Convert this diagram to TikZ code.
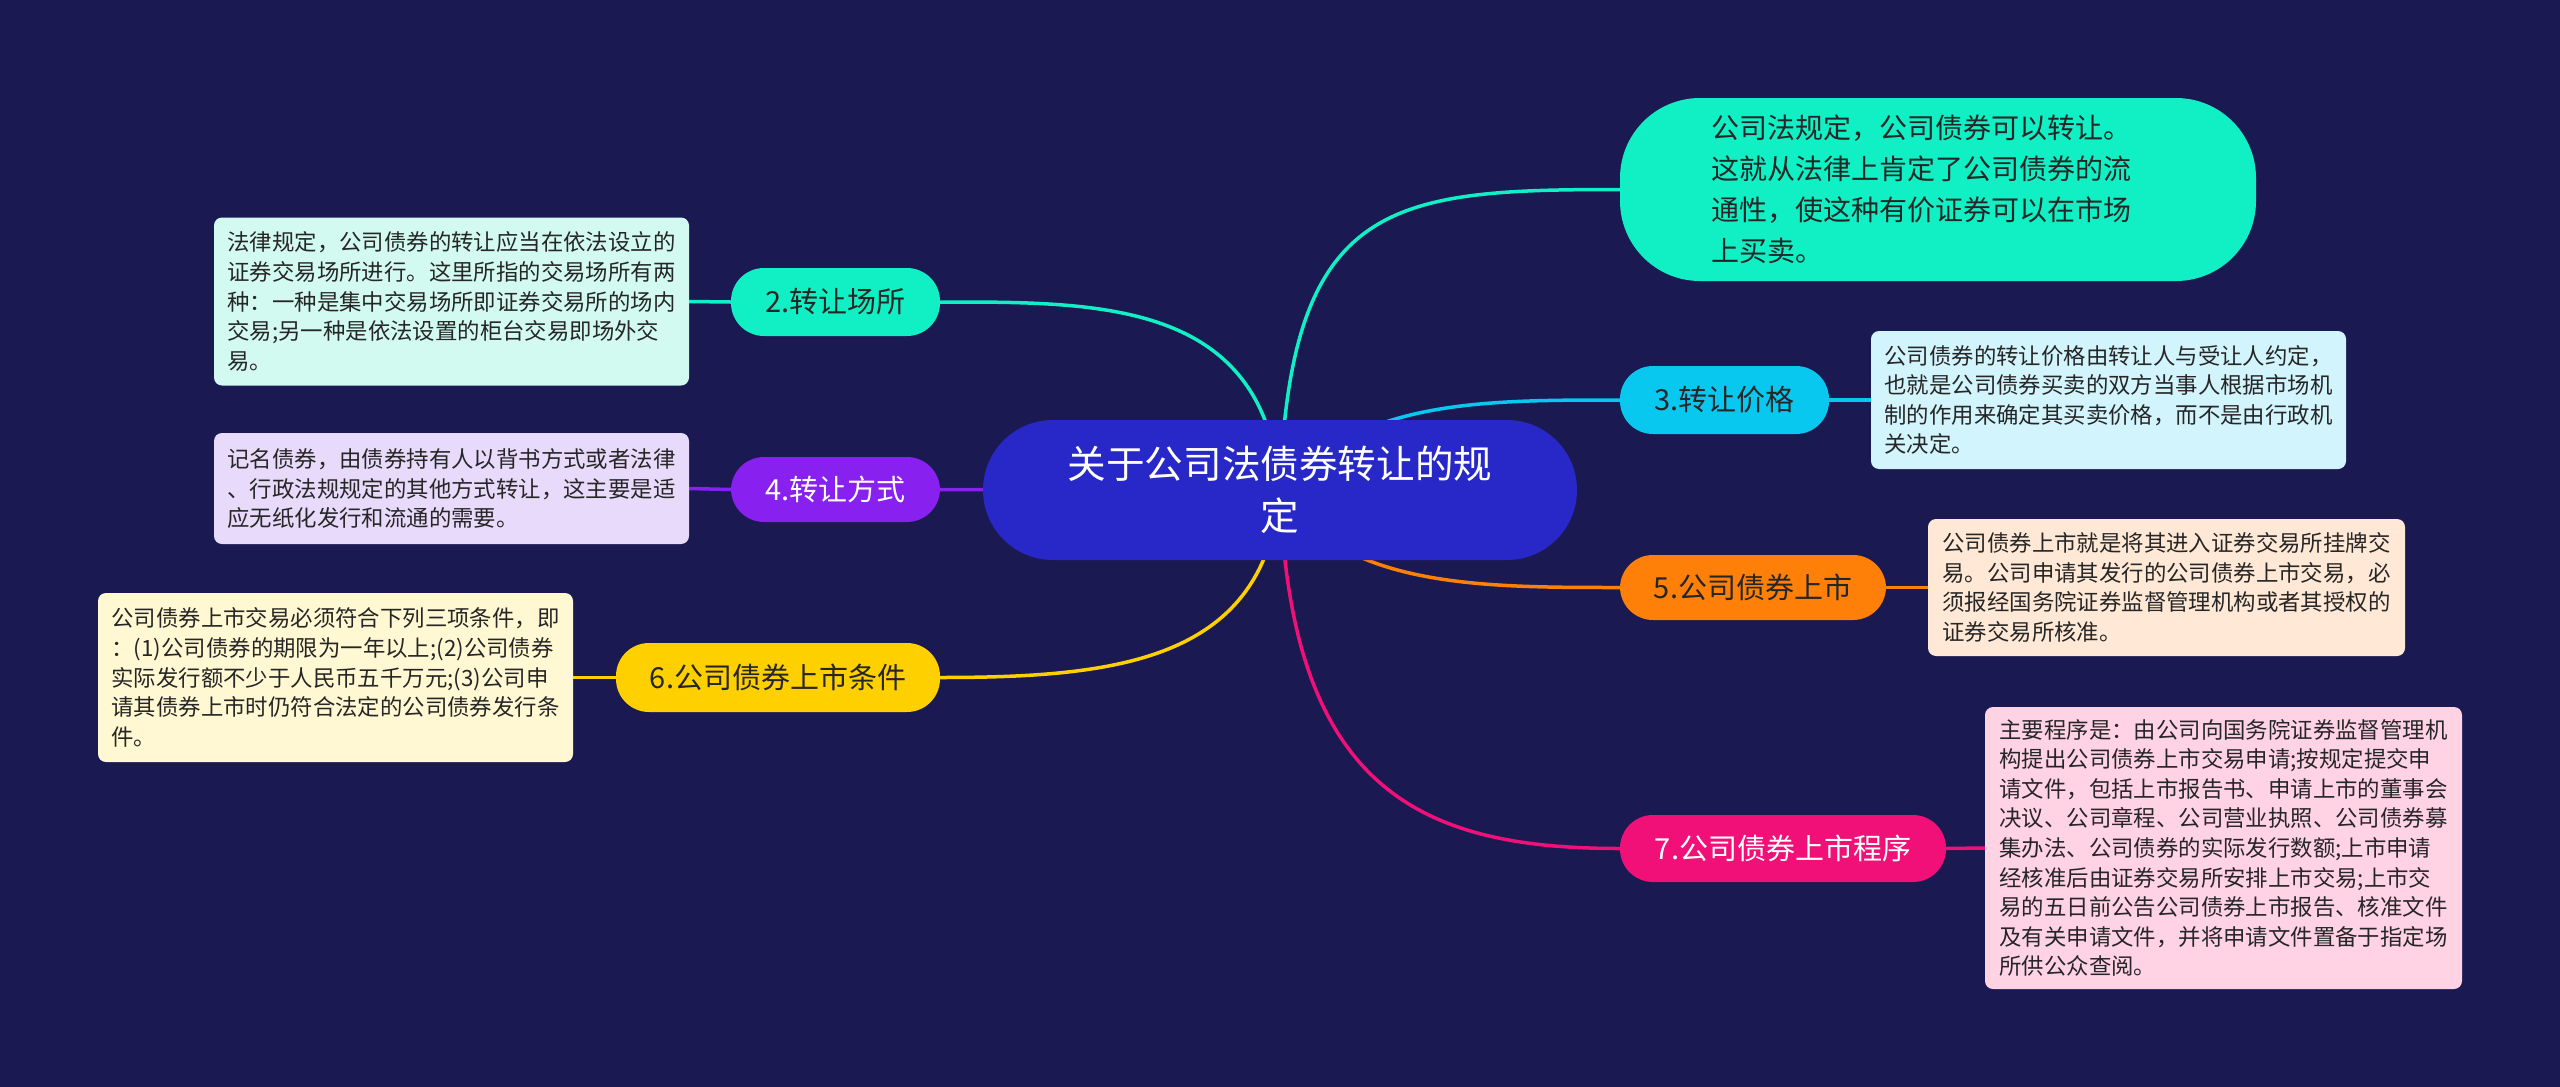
\documentclass[tikz,border=0pt]{standalone}
\usepackage{fontspec}
\setmainfont{Noto Sans CJK SC}
\pgfdeclarelayer{bglayer}
\pgfdeclarelayer{edgelayer}
\pgfsetlayers{bglayer,edgelayer,main}
\definecolor{bgc}{RGB}{27,25,82}
\definecolor{rootc}{RGB}{40,40,200}
\definecolor{mintc}{RGB}{16,240,196}
\definecolor{skyc}{RGB}{8,200,240}
\definecolor{orangec}{RGB}{255,128,8}
\definecolor{pinkc}{RGB}{240,16,120}
\definecolor{purplec}{RGB}{136,32,240}
\definecolor{yellowc}{RGB}{255,208,0}
\definecolor{mintl}{RGB}{210,250,240}
\definecolor{skyl}{RGB}{210,244,252}
\definecolor{orangel}{RGB}{255,233,214}
\definecolor{pinkl}{RGB}{255,210,228}
\definecolor{purplel}{RGB}{232,218,250}
\definecolor{yellowl}{RGB}{255,248,210}
\definecolor{darktext}{RGB}{38,38,38}
\tikzset{
  pill/.style={rectangle, rounded corners=33pt, inner sep=0pt, minimum height=67pt,
    font=\fontsize{29}{34}\selectfont, text=darktext},
  detail/.style={rectangle, rounded corners=8pt, inner sep=0pt, align=left,
    minimum width=475pt, font=\fontsize{22.4}{29.6}\selectfont, text=darktext},
  conn/.style={line width=3.5pt},
}
\begin{document}
\begin{tikzpicture}[x=1pt,y=-1pt]
\begin{pgfonlayer}{bglayer}
\fill[bgc] (0,0) rectangle (2560,1087);
\end{pgfonlayer}
\useasboundingbox (0,0) rectangle (2560,1087);

% root
\node[rectangle, rounded corners=70pt, fill=rootc, minimum width=594pt, minimum height=140pt,
  inner sep=0pt, align=center, text=white, font=\fontsize{38.6}{52}\selectfont]
  (c) at (1280,490) {关于公司法债券转让的规\\定};

% right side
\node[rectangle, rounded corners=80pt, fill=mintc, minimum width=636pt, minimum height=183pt,
  inner sep=0pt, text width=454pt, align=left, text=darktext, font=\fontsize{28}{41}\selectfont]
  (n1) at (1938,189.5) {公司法规定，公司债券可以转让。\\这就从法律上肯定了公司债券的流\\通性，使这种有价证券可以在市场\\上买卖。};

\node[pill, fill=skyc, minimum width=209pt, minimum height=68pt] (n3) at (1724.5,400) {3.转让价格};
\node[detail, fill=skyl, minimum height=138pt] (d3) at (2108.5,400)
  {公司债券的转让价格由转让人与受让人约定，\\也就是公司债券买卖的双方当事人根据市场机\\制的作用来确定其买卖价格，而不是由行政机\\关决定。};

\node[pill, fill=orangec, minimum width=266pt, minimum height=65pt] (n5) at (1753,587.5) {5.公司债券上市};
\node[detail, fill=orangel, minimum width=477pt, minimum height=137pt] (d5) at (2166.5,587.5)
  {公司债券上市就是将其进入证券交易所挂牌交\\易。公司申请其发行的公司债券上市交易，必\\须报经国务院证券监督管理机构或者其授权的\\证券交易所核准。};

\node[pill, fill=pinkc, text=white, minimum width=326pt, minimum height=67pt] (n7) at (1783,848.5) {7.公司债券上市程序};
\node[detail, fill=pinkl, minimum width=477pt, minimum height=282pt] (d7) at (2223.5,848)
  {主要程序是：由公司向国务院证券监督管理机\\构提出公司债券上市交易申请;按规定提交申\\请文件，包括上市报告书、申请上市的董事会\\决议、公司章程、公司营业执照、公司债券募\\集办法、公司债券的实际发行数额;上市申请\\经核准后由证券交易所安排上市交易;上市交\\易的五日前公告公司债券上市报告、核准文件\\及有关申请文件，并将申请文件置备于指定场\\所供公众查阅。};

% left side
\node[pill, fill=mintc, minimum width=209pt, minimum height=68pt] (n2) at (835.5,302) {2.转让场所};
\node[detail, fill=mintl, minimum height=168pt] (d2) at (451.5,301.5)
  {法律规定，公司债券的转让应当在依法设立的\\证券交易场所进行。这里所指的交易场所有两\\种：一种是集中交易场所即证券交易所的场内\\交易;另一种是依法设置的柜台交易即场外交\\易。};

\node[pill, fill=purplec, text=white, minimum width=209pt, minimum height=65pt] (n4) at (835.5,489.5) {4.转让方式};
\node[detail, fill=purplel, minimum height=111pt] (d4) at (451.5,488.5)
  {记名债券，由债券持有人以背书方式或者法律\\、行政法规规定的其他方式转让，这主要是适\\应无纸化发行和流通的需要。};

\node[pill, fill=yellowc, minimum width=324pt, minimum height=69pt] (n6) at (778,677.5) {6.公司债券上市条件};
\node[detail, fill=yellowl, minimum height=169pt] (d6) at (335.5,677.5)
  {公司债券上市交易必须符合下列三项条件，即\\：(1)公司债券的期限为一年以上;(2)公司债券\\实际发行额不少于人民币五千万元;(3)公司申\\请其债券上市时仍符合法定的公司债券发行条\\件。};

\begin{pgfonlayer}{edgelayer}
\draw[conn, mintc] (c.center) .. controls (1290,200) and (1390,189.5) .. (n1.west);
\draw[conn, skyc] (c.center) .. controls (1360,400) and (1480,400) .. (n3.west);
\draw[conn, orangec] (c.center) .. controls (1340,587.5) and (1480,587.5) .. (n5.west);
\draw[conn, pinkc] (c.center) .. controls (1290,790) and (1420,848.5) .. (n7.west);
\draw[conn, mintc] (c.center) .. controls (1265,300) and (1100,302) .. (n2.east);
\draw[conn, purplec] (c.center) -- (n4.east);
\draw[conn, yellowc] (c.center) .. controls (1265,660) and (1120,677.5) .. (n6.east);
\draw[conn, skyc] (n3.east) -- (d3.west);
\draw[conn, orangec] (n5.east) -- (d5.west);
\draw[conn, pinkc] (n7.east) -- (d7.west);
\draw[conn, mintc] (n2.west) -- (d2.east);
\draw[conn, purplec] (n4.west) -- (d4.east);
\draw[conn, yellowc] (n6.west) -- (d6.east);
\end{pgfonlayer}
\end{tikzpicture}
\end{document}
